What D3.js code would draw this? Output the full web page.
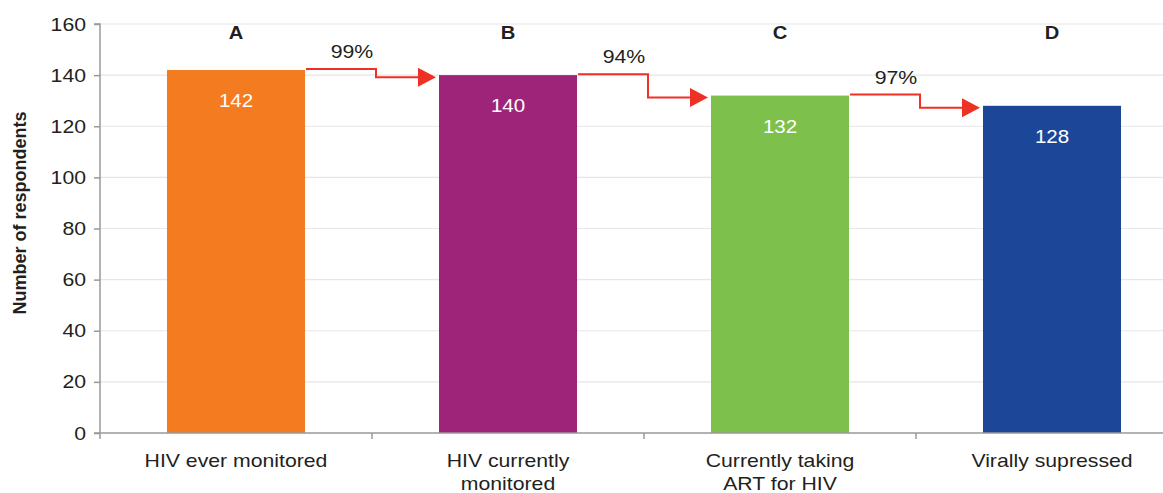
<!DOCTYPE html>
<html><head><meta charset="utf-8">
<script src="https://cdn.jsdelivr.net/npm/d3@7"></script>
<style>
body{margin:0;background:#fff;}
text{font-family:"Liberation Sans",Arial,Helvetica,sans-serif;fill:#231f20;}
</style></head>
<body><svg id="c" width="1163" height="493"></svg>
<script>
const categories = ["HIV ever monitored","HIV currently\nmonitored","Currently taking\nART for HIV","Virally supressed"];
const letters = ["A","B","C","D"];
const values = [142,140,132,128];
const colors = ["#F47B20","#9E2479","#7DC04B","#1C4799"];
const percents = ["99%","94%","97%"];
const yTicks = [0,20,40,60,80,100,120,140,160];

const SX = 1.18; // horizontal stretch of the reference's lettering
const svg = d3.select("#c");
const x0 = 100, x1 = 1188, yTop = 24, yBot = 433;
const y = d3.scaleLinear().domain([0,160]).range([yBot,yTop]);
const xb = d3.scaleBand().domain(d3.range(4)).range([x0,x1]).paddingInner(0.4926).paddingOuter(0.2463);
const xs = d3.scaleBand().domain(d3.range(4)).range([x0,x1]).padding(0);

function stext(g, x, y, s, size, opts={}){
  const t = g.append("text").attr("transform",`translate(${x},${y}) scale(${opts.sx||SX},1)`)
    .attr("text-anchor",opts.anchor||"middle").attr("font-size",size);
  if(opts.bold) t.attr("font-weight","bold");
  if(opts.fill) t.style("fill",opts.fill);
  const lines = String(s).split("\n");
  lines.forEach((l,k)=>t.append("tspan").attr("x",0).attr("dy",k?(opts.lh||20):0).text(l));
  return t;
}

// grid
svg.append("g").selectAll("line").data(yTicks.filter(d=>d>0)).join("line")
  .attr("x1",x0).attr("x2",1163).attr("y1",d=>y(d)).attr("y2",d=>y(d))
  .attr("stroke","#e6e6e6").attr("stroke-width",1.2);

// bars
svg.append("g").selectAll("rect").data(values).join("rect")
  .attr("x",(d,i)=>xb(i)).attr("width",xb.bandwidth())
  .attr("y",d=>y(d)).attr("height",d=>y(0)-y(d))
  .attr("fill",(d,i)=>colors[i]);

const cx = i => xb(i)+xb.bandwidth()/2;
const lab = svg.append("g");
// value labels
values.forEach((v,i)=>stext(lab, cx(i), y(v)+37, v, 19, {fill:"#fff", sx:1.08}));
// letters
letters.forEach((l,i)=>stext(lab, cx(i), 39, l, 18, {bold:true, sx:1.12}));

// y axis
const ya = svg.append("g").attr("transform",`translate(${x0},0)`)
  .call(d3.axisLeft(y).tickValues(yTicks).tickSize(6).tickFormat(""));
ya.select(".domain").attr("stroke","#999").attr("stroke-width",1.5).attr("d",`M-6,${yTop}H0V${yBot}`);
ya.selectAll(".tick line").attr("stroke","#999").attr("stroke-width",1.5);
yTicks.forEach(t=>stext(lab, 86, y(t)+6.5, t, 18, {anchor:"end"}));

// x axis
const xa = svg.append("g").attr("transform",`translate(0,${yBot})`);
xa.append("line").attr("x1",x0-6).attr("x2",1163).attr("y1",0).attr("y2",0).attr("stroke","#999").attr("stroke-width",1.5);
xa.selectAll("line.t").data(d3.range(4)).join("line").attr("class","t")
  .attr("x1",i=>xs(i)).attr("x2",i=>xs(i)).attr("y1",0).attr("y2",6).attr("stroke","#999").attr("stroke-width",1.5);
categories.forEach((c,i)=>stext(lab, cx(i), 467, c, 18, {lh:23}));

// y title
svg.append("text").attr("transform","translate(26,213) rotate(-90)")
  .attr("text-anchor","middle").attr("font-weight","bold").attr("font-size",18).text("Number of respondents");

// arrows
const red = "#EE3124";
const ag = svg.append("g");
percents.forEach((p,i)=>{
  const sx = xb(i)+xb.bandwidth()+1, sy = y(values[i])-1;
  const stepX = xs(i+1)+4;
  const ey = y(values[i+1])+2;
  const tipX = xb(i+1)-3;
  ag.append("path").attr("d",`M${sx},${sy}H${stepX}V${ey}H${tipX-16}`)
    .attr("fill","none").attr("stroke",red).attr("stroke-width",2);
  ag.append("path").attr("d",`M${tipX},${ey}L${tipX-18},${ey-9.5}L${tipX-18},${ey+9.5}Z`).attr("fill",red);
  stext(ag, stepX-24, sy-11, p, 19, {sx:1.12});
});
</script></body></html>
